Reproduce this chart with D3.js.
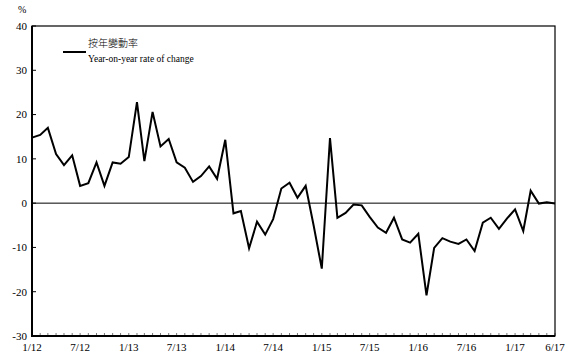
<!DOCTYPE html>
<html>
<head>
  <script src="https://d3js.org/d3.v7.min.js"></script>
  <style>
    body { margin: 0; background: #fff; }
    svg text { font-family: "Liberation Serif", "Times New Roman", serif; fill: #000; }
  </style>
</head>
<body>
  <svg id="chart" width="572" height="362"></svg>
  <script>
    // monthly year-on-year % change, Jan 2012 .. Jun 2017
    var values = [
      14.8, 15.4, 17.0, 11.1, 8.6, 10.8, 3.9, 4.5, 9.2, 3.9, 9.2, 8.9,
      10.4, 22.8, 9.5, 20.6, 12.8, 14.5, 9.2, 8.0, 4.8, 6.1, 8.3, 5.5,
      14.3, -2.3, -1.8, -10.2, -4.2, -7.1, -3.6, 3.3, 4.6, 1.2, 3.9, -5.0,
      -14.8, 14.7, -3.3, -2.2, -0.3, -0.5, -3.1, -5.5, -6.7, -3.3, -8.2, -8.9,
      -6.9, -20.8, -10.1, -7.9, -8.7, -9.2, -8.2, -10.8, -4.4, -3.3, -5.8, -3.5,
      -1.4, -6.3, 2.8, -0.1, 0.2, -0.1
    ];
    var months = d3.timeMonth.range(new Date(2012, 0, 1), new Date(2017, 6, 1));

    var tickMonths = ['2012-01', '2012-07', '2013-01', '2013-07', '2014-01', '2014-07',
      '2015-01', '2015-07', '2016-01', '2016-07', '2017-01', '2017-06'];
    var tickLabels = ['1/12', '7/12', '1/13', '7/13', '1/14', '7/14',
      '1/15', '7/15', '1/16', '7/16', '1/17', '6/17'];
    var yTicks = [-30, -20, -10, 0, 10, 20, 30, 40];

    var plotLeft = 32, plotRight = 555, plotTop = 26, plotBottom = 336;
    var parse = d3.timeParse('%Y-%m');

    var x = d3.scaleTime()
      .domain([months[0], months[months.length - 1]])
      .range([plotLeft, plotRight]);
    var y = d3.scaleLinear()
      .domain([-30, 40])
      .range([plotBottom, plotTop]);

    var svg = d3.select('#chart');

    // monthly minor ticks along the bottom
    svg.append('g')
      .selectAll('line')
      .data(months)
      .enter()
      .append('line')
      .attr('x1', function (d) { return x(d); })
      .attr('x2', function (d) { return x(d); })
      .attr('y1', plotBottom)
      .attr('y2', plotBottom - 3)
      .attr('stroke', '#777')
      .attr('stroke-width', 1);

    // frame: thin top/right, heavier left/bottom axes
    svg.append('rect')
      .attr('x', plotLeft)
      .attr('y', plotTop)
      .attr('width', plotRight - plotLeft)
      .attr('height', plotBottom - plotTop)
      .attr('fill', 'none')
      .attr('stroke', '#000')
      .attr('stroke-width', 1.2);
    svg.append('path')
      .attr('d', 'M' + plotLeft + ',' + plotTop + 'V' + plotBottom + 'H' + plotRight)
      .attr('fill', 'none')
      .attr('stroke', '#000')
      .attr('stroke-width', 2);

    // y ticks (inward) and labels
    var yg = svg.append('g');
    yg.selectAll('line')
      .data(yTicks)
      .enter()
      .append('line')
      .attr('x1', plotLeft)
      .attr('x2', plotLeft + 4)
      .attr('y1', function (d) { return y(d); })
      .attr('y2', function (d) { return y(d); })
      .attr('stroke', '#000');
    yg.selectAll('text')
      .data(yTicks)
      .enter()
      .append('text')
      .attr('x', plotLeft - 5)
      .attr('y', function (d) { return y(d); })
      .attr('dy', '.35em')
      .attr('text-anchor', 'end')
      .style('font-size', '11px')
      .text(function (d) { return d; });

    svg.append('text')
      .attr('x', 18)
      .attr('y', 13)
      .style('font-size', '10px')
      .text('%');

    // x labels
    svg.append('g')
      .selectAll('text')
      .data(tickMonths)
      .enter()
      .append('text')
      .attr('x', function (d) { return x(parse(d)); })
      .attr('y', 351)
      .attr('text-anchor', 'middle')
      .style('font-size', '11px')
      .text(function (d, i) { return tickLabels[i]; });

    // zero line
    svg.append('line')
      .attr('x1', plotLeft)
      .attr('x2', plotRight)
      .attr('y1', y(0))
      .attr('y2', y(0))
      .attr('stroke', '#000')
      .attr('stroke-width', 1);

    var line = d3.line()
      .x(function (d, i) { return x(months[i]); })
      .y(function (d) { return y(d); });

    svg.append('path')
      .datum(values)
      .attr('d', line)
      .attr('fill', 'none')
      .attr('stroke', '#000')
      .attr('stroke-width', 2)
      .attr('stroke-linejoin', 'miter');

    // legend
    svg.append('line')
      .attr('x1', 63)
      .attr('x2', 86)
      .attr('y1', 52)
      .attr('y2', 52)
      .attr('stroke', '#000')
      .attr('stroke-width', 2);
    svg.append('text')
      .attr('x', 88)
      .attr('y', 47)
      .style('font-family', '"Noto Sans CJK TC", sans-serif')
      .style('font-size', '10px')
      .style('font-weight', 300)
      .text('按年變動率');
    svg.append('text')
      .attr('x', 88)
      .attr('y', 62)
      .style('font-size', '9.5px')
      .text('Year-on-year rate of change');
  </script>
</body>
</html>
